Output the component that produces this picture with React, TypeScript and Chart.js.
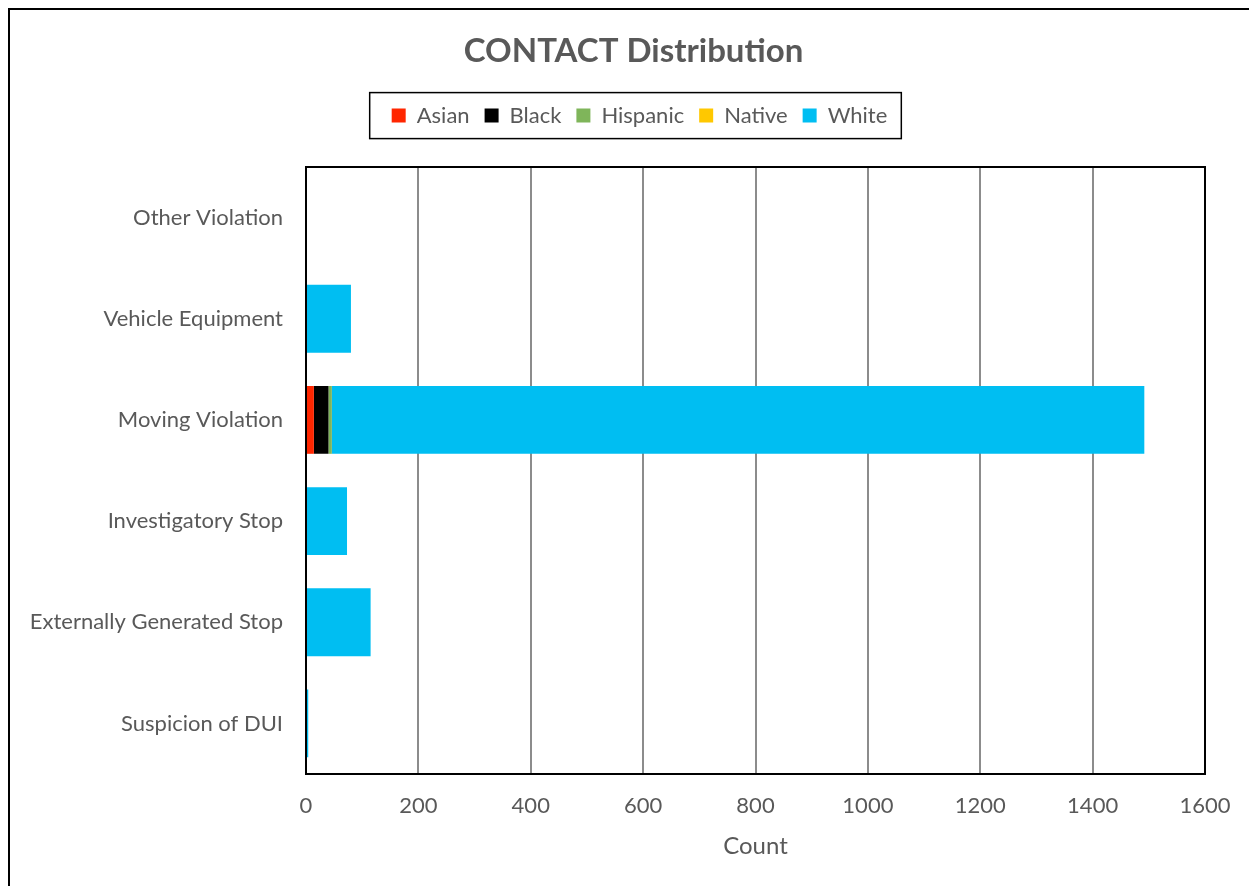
import React, { useEffect, useRef } from "react";
import { Chart, registerables } from "chart.js";

Chart.register(...registerables);

const categories = [
  "Other Violation",
  "Vehicle Equipment",
  "Moving Violation",
  "Investigatory Stop",
  "Externally Generated Stop",
  "Suspicion of DUI",
];
const asian = [0, 0, 14, 0, 0, 0];
const black = [0, 0, 26, 0, 0, 0];
const hispanic = [0, 0, 6, 0, 1, 0];
const native = [0, 0, 0, 0, 0, 0];
const white = [0, 80, 1446, 73, 114, 4];

const xMin = 0;
const xMax = 1600;
const xStep = 200;

const TEXT = "#595959";
const FONT = "Lato, 'Open Sans', sans-serif";
const LEGEND_SHIFT = 6;

const framePlugin = {
  id: "frame",
  beforeDraw(chart: any) {
    const lg = chart.legend;
    if (!lg || lg._shifted) return;
    lg._shifted = true;
    lg.left += LEGEND_SHIFT;
    lg.right += LEGEND_SHIFT;
    (lg.legendHitBoxes || []).forEach((b: any) => {
      b.left += LEGEND_SHIFT;
    });
  },
  afterDatasetsDraw(chart: any) {
    const { ctx, chartArea } = chart;
    ctx.save();
    ctx.strokeStyle = "#000";
    ctx.lineWidth = 2;
    ctx.strokeRect(
      chartArea.left,
      chartArea.top,
      chartArea.right - chartArea.left,
      chartArea.bottom - chartArea.top
    );
    ctx.restore();
  },
  afterDraw(chart: any) {
    const lg = chart.legend;
    if (!lg || !lg.legendHitBoxes || !lg.legendHitBoxes.length) return;
    const hb = lg.legendHitBoxes;
    let minX = Infinity, maxX = -Infinity, minY = Infinity, maxY = -Infinity;
    hb.forEach((b: any) => {
      minX = Math.min(minX, b.left);
      maxX = Math.max(maxX, b.left + b.width);
      minY = Math.min(minY, b.top);
      maxY = Math.max(maxY, b.top + b.height);
    });
    const { ctx } = chart;
    ctx.save();
    ctx.strokeStyle = "#000";
    ctx.lineWidth = 1.5;
    ctx.strokeRect(minX - 22, minY - 12, maxX - minX + 36, maxY - minY + 24);
    ctx.restore();
  },
};

export default function App() {
  const ref = useRef<HTMLCanvasElement>(null);

  useEffect(() => {
    const chart = new Chart(ref.current!, {
      type: "bar",
      data: {
        labels: categories,
        datasets: [
          { label: "Asian", data: asian, backgroundColor: "#FF2600" },
          { label: "Black", data: black, backgroundColor: "#000000" },
          { label: "Hispanic", data: hispanic, backgroundColor: "#7FB55A" },
          { label: "Native", data: native, backgroundColor: "#FFC800" },
          { label: "White", data: white, backgroundColor: "#00BEF2" },
        ],
      },
      options: {
        indexAxis: "y",
        responsive: false,
        animation: false,
        datasets: {
          bar: { barPercentage: 0.67, categoryPercentage: 1.0 },
        },
        layout: { padding: { left: 0, right: 0, top: 0, bottom: 0 } },
        plugins: {
          title: {
            display: true,
            text: "CONTACT Distribution",
            color: TEXT,
            font: { family: FONT, size: 33, weight: "bold" },
            padding: { top: 22, bottom: 18 },
          },
          subtitle: {
            display: true,
            text: " ",
            weight: 500,
            font: { size: 2 },
            padding: { top: 14, bottom: 14 },
          } as any,
          legend: {
            position: "top",
            labels: {
              boxWidth: 14,
              boxHeight: 14,
              padding: 15,
              color: TEXT,
              font: { family: FONT, size: 22 },
            },
          },
          tooltip: { enabled: false },
        },
        scales: {
          x: {
            stacked: true,
            min: xMin,
            max: xMax,
            ticks: {
              stepSize: xStep,
              color: TEXT,
              font: { family: FONT, size: 22 },
              padding: 19,
              callback: (v: any) => String(v),
            },
            grid: {
              color: "#8c8c8c",
              lineWidth: 2,
              drawTicks: false,
            },
            border: { display: false },
            title: {
              display: true,
              text: "Count",
              color: TEXT,
              font: { family: FONT, size: 24 },
              padding: { top: 10, bottom: 25 },
            },
            afterFit: (scale: any) => {
              scale.height = 112;
            },
          },
          y: {
            stacked: true,
            ticks: {
              color: TEXT,
              font: { family: FONT, size: 22 },
              padding: 23,
            },
            grid: { display: false, drawTicks: false },
            border: { display: false },
            afterFit: (scale: any) => {
              scale.width = 296;
            },
          },
          yRight: {
            axis: "y",
            type: "category",
            position: "right",
            display: true,
            ticks: { display: false },
            grid: { display: false, drawTicks: false },
            border: { display: false },
            afterFit: (scale: any) => {
              scale.width = 52;
            },
          },
        },
      } as any,
      plugins: [framePlugin],
    });
    return () => chart.destroy();
  }, []);

  return (
    <div
      style={{
        width: 1249,
        height: 878,
        borderTop: "2px solid #000",
        borderLeft: "2px solid #000",
        boxSizing: "border-box",
        overflow: "hidden",
        background: "#fff",
      }}
    >
      <canvas ref={ref} width={1247} height={876} style={{ display: "block" }} />
    </div>
  );
}
